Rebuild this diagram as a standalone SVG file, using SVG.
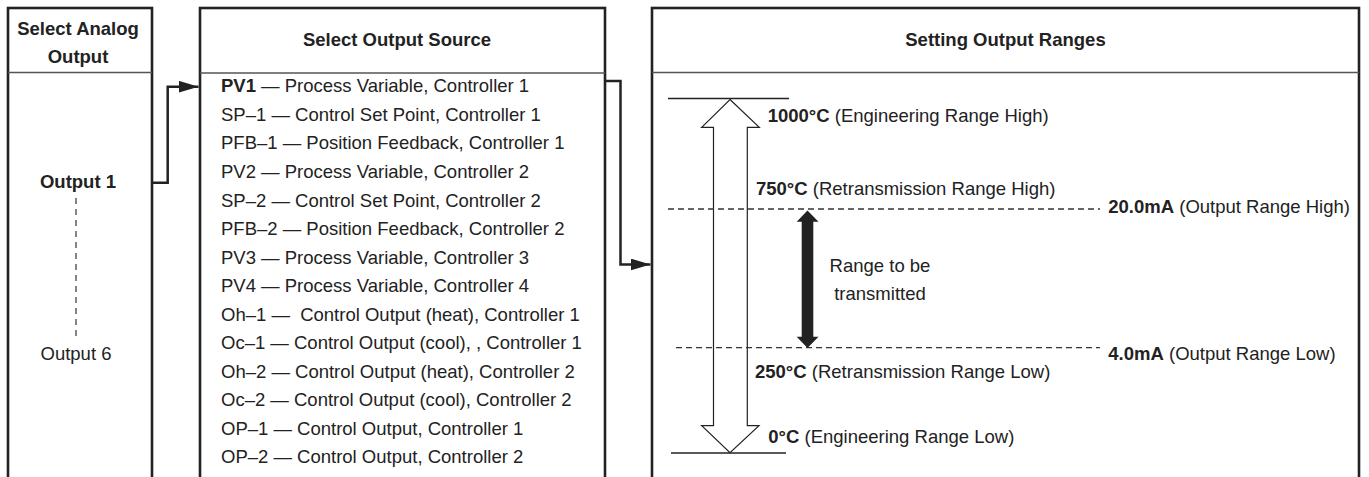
<svg xmlns="http://www.w3.org/2000/svg" width="1369" height="477" viewBox="0 0 1369 477">
<style>
text{font-family:"Liberation Sans",Arial,sans-serif;font-size:18.5px;fill:#222}
.b{font-weight:bold}
.box{fill:#fff;stroke:#222;stroke-width:2.6}
.div{stroke:#555;stroke-width:1.6}
.conn{fill:none;stroke:#222;stroke-width:2.5}
.dash{stroke:#333;stroke-width:1.3;stroke-dasharray:6 4}
</style>
<defs>
<marker id="ah" markerWidth="20" markerHeight="12" refX="20" refY="6" orient="auto" markerUnits="userSpaceOnUse" viewBox="0 0 20 12">
<path d="M0,0 L20,6 L0,12 Z" fill="#222"/>
</marker>
</defs>
<rect width="1369" height="477" fill="#fff"/>

<g id="node-select-analog">
<rect class="box" x="8" y="8" width="144" height="480"/>
<line class="div" x1="8" y1="72.5" x2="152" y2="72.5"/>
<text class="b" x="78" y="35" text-anchor="middle">Select Analog</text>
<text class="b" x="78" y="63" text-anchor="middle">Output</text>
<text class="b" x="78" y="188" text-anchor="middle">Output 1</text>
<line x1="76" y1="198" x2="76" y2="339" stroke="#444" stroke-width="1.3" stroke-dasharray="6 5"/>
<text x="76" y="360" text-anchor="middle">Output 6</text>
</g>

<g id="node-select-source">
<rect class="box" x="200" y="8" width="405" height="480"/>
<line class="div" x1="200" y1="73" x2="605" y2="73"/>
<text class="b" x="397" y="46" text-anchor="middle">Select Output Source</text>
<text x="221" y="92.3"><tspan class="b">PV1</tspan> — Process Variable, Controller 1</text>
<text x="221" y="120.8">SP–1 — Control Set Point, Controller 1</text>
<text x="221" y="149.4">PFB–1 — Position Feedback, Controller 1</text>
<text x="221" y="177.9">PV2 — Process Variable, Controller 2</text>
<text x="221" y="206.5">SP–2 — Control Set Point, Controller 2</text>
<text x="221" y="235">PFB–2 — Position Feedback, Controller 2</text>
<text x="221" y="263.5">PV3 — Process Variable, Controller 3</text>
<text x="221" y="292.1">PV4 — Process Variable, Controller 4</text>
<text x="221" y="320.6" xml:space="preserve">Oh–1 —  Control Output (heat), Controller 1</text>
<text x="221" y="349.2">Oc–1 — Control Output (cool), , Controller 1</text>
<text x="221" y="377.7">Oh–2 — Control Output (heat), Controller 2</text>
<text x="221" y="406.2">Oc–2 — Control Output (cool), Controller 2</text>
<text x="221" y="434.8">OP–1 — Control Output, Controller 1</text>
<text x="221" y="463.3">OP–2 — Control Output, Controller 2</text>
</g>

<g id="node-output-ranges">
<rect class="box" x="652" y="8" width="707" height="480"/>
<line class="div" x1="652" y1="72.5" x2="1359" y2="72.5"/>
<text class="b" x="1005.5" y="46" text-anchor="middle">Setting Output Ranges</text>
<line x1="668" y1="98.5" x2="789" y2="98.5" stroke="#222" stroke-width="1.3"/>
<line x1="671" y1="453" x2="786" y2="453" stroke="#222" stroke-width="1.3"/>
<path d="M730,99.5 L759.3,127.3 L747.3,127.3 L747.3,425.7 L759,425.7 L730,452.7 L701.7,425.7 L713.5,425.7 L713.5,127.3 L701.7,127.3 Z" fill="#fff" stroke="#222" stroke-width="1.2"/>
<line class="dash" x1="668" y1="209" x2="1100" y2="209"/>
<line class="dash" x1="676" y1="347.7" x2="1100" y2="347.7"/>
<path d="M807.5,210.5 L818.5,221.7 L813.3,221.7 L813.3,336.7 L818.5,336.7 L807.5,348 L796.7,336.7 L801.7,336.7 L801.7,221.7 L796.7,221.7 Z" fill="#222"/>
<text x="767.7" y="122.3"><tspan class="b">1000°C</tspan> (Engineering Range High)</text>
<text x="756" y="195"><tspan class="b">750°C</tspan> (Retransmission Range High)</text>
<text x="880" y="271.7" text-anchor="middle">Range to be</text>
<text x="880" y="300" text-anchor="middle">transmitted</text>
<text x="755" y="378.3"><tspan class="b">250°C</tspan> (Retransmission Range Low)</text>
<text x="768.3" y="443.3"><tspan class="b">0°C</tspan> (Engineering Range Low)</text>
<text x="1108.3" y="213.3"><tspan class="b">20.0mA</tspan> (Output Range High)</text>
<text x="1108.3" y="360"><tspan class="b">4.0mA</tspan> (Output Range Low)</text>
</g>

<g id="connectors">
<polyline class="conn" points="152,182.7 167.7,182.7 167.7,86.7 198.5,86.7" marker-end="url(#ah)"/>
<polyline class="conn" points="605,81 620.5,81 620.5,264.5 650.5,264.5" marker-end="url(#ah)"/>
</g>
</svg>
